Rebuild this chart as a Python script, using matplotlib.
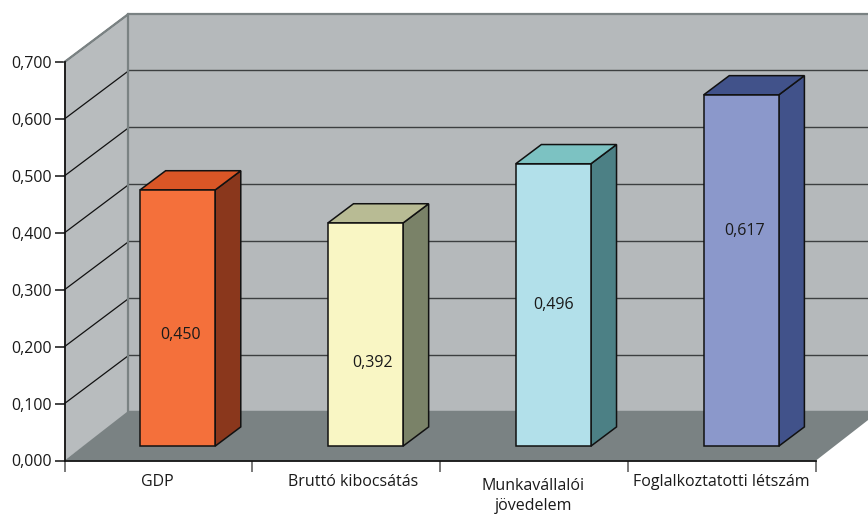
import matplotlib
matplotlib.use('Agg')
import matplotlib.pyplot as plt
import numpy as np

categories = ['GDP', 'Bruttó kibocsátás', 'Munkavállalói\njövedelem', 'Foglalkoztatotti létszám']
values = [0.450, 0.392, 0.496, 0.617]
value_labels = ['0,450', '0,392', '0,496', '0,617']
y_ticks = [0.0, 0.1, 0.2, 0.3, 0.4, 0.5, 0.6, 0.7]
y_labels = ['0,000', '0,100', '0,200', '0,300', '0,400', '0,500', '0,600', '0,700']

front_colors = ['#f4703b', '#f9f6c4', '#b2e0ea', '#8b98cb']
side_colors = ['#8a371c', '#7a8268', '#4c8085', '#41528a']
top_colors = ['#da5626', '#b8bb94', '#7cc2c2', '#41528a']

# height of the value text inside each bar
label_y = [0.221, 0.171, 0.274, 0.404]
label_shift = [0.015, 0.036, 0.0, 0.02]
# sideways shift of category labels in px
label_dx = [-1, 7, -1, -1]
label_top = [-14, -14, -17, -14]

plt.rcParams['font.family'] = 'Open Sans'
W, H = 868, 515
fig = plt.figure(figsize=(W/100, H/100), dpi=100)
x0, x1, ytop, ybot = 64.5, 816, 62, 460.5
ax = fig.add_axes([x0/W, 1-ybot/H, (x1-x0)/W, (ybot-ytop)/H])
ax.set_xlim(0, 4)
ax.set_ylim(0, 0.7)
ax.patch.set_visible(False)

# depth of the fake 3d box, in data units
dx = 64/188
dy = 48/569.3
floor_dy = dy+0.003

# walls and floor
ax.fill([dx, 4+dx+0.2, 4+dx+0.2, dx], [dy, dy, 0.7+dy, 0.7+dy], color='#b5b9bb', clip_on=False, zorder=1, lw=0)
ax.fill([0, dx, dx, 0], [0, dy, 0.7+dy, 0.7], color='#b8bcbe', clip_on=False, zorder=1, lw=0)

for t in y_ticks[1:]:
    ax.plot([0, dx], [t, t+dy], color='#111111', lw=0.9, clip_on=False, zorder=2)
    if t < 0.7:
        ax.plot([dx, 4+dx+0.2], [t+dy+0.001, t+dy+0.001], color='#3c3f40', lw=1.0, clip_on=False, zorder=2)

# wall edges
ax.plot([0, dx, 4+dx+0.2], [0.7, 0.7+dy, 0.7+dy], color='#7a8283', lw=1.6, clip_on=False, zorder=3)
ax.plot([dx, dx], [dy, 0.7+dy], color='#7a8283', lw=1.6, clip_on=False, zorder=3)
ax.fill([0, 4, 4+dx, dx], [0, 0, floor_dy, floor_dy], color='#7a8283', clip_on=False, zorder=3, lw=0)

# bars: front face from ax.bar, side and top built from the same value
bw = 0.4
d0, d1 = 0.3, 0.7
for i, v in enumerate(values):
    xc = i+0.5+d0*dx
    y0 = d0*dy
    xl, xr = xc-bw/2, xc+bw/2
    sx, sy = (d1-d0)*dx, (d1-d0)*dy
    ax.fill([xr, xr+sx, xr+sx, xr], [y0, y0+sy, y0+v+sy, y0+v], facecolor=side_colors[i],
            edgecolor='#111111', lw=1.1, zorder=4, clip_on=False)
    ax.fill([xl, xr, xr+sx, xl+sx], [y0+v, y0+v, y0+v+sy, y0+v+sy], facecolor=top_colors[i],
            edgecolor='#111111', lw=1.1, zorder=4, clip_on=False)
    ax.bar(xc, v, bw, bottom=y0, color=front_colors[i], edgecolor='#111111', lw=1.1, zorder=5, clip_on=False)
    ax.text(xc+label_shift[i], label_y[i], value_labels[i], ha='center', va='center', fontsize=11.5,
            color='#1a1a1a', zorder=6)

for s in ['top', 'right']:
    ax.spines[s].set_visible(False)
for s in ['left', 'bottom']:
    ax.spines[s].set_linewidth(1.3)
    ax.spines[s].set_color('#111111')
    ax.spines[s].set_zorder(7)

ax.set_yticks(y_ticks)
ax.set_yticklabels(y_labels, fontsize=11.5, color='#1a1a1a')
ax.set_xticks(np.arange(5))
ax.set_xticklabels([])
ax.tick_params(axis='y', length=7, width=1.1, pad=2, color='#111111')
ax.tick_params(axis='x', length=8, width=1.1, color='#555555')

for i, c in enumerate(categories):
    ax.annotate(c, xy=(i+0.5, 0), xycoords=ax.get_xaxis_transform(),
                xytext=(label_dx[i], label_top[i]), textcoords='offset pixels',
                ha='center', va='top', fontsize=11.5, color='#1a1a1a', linespacing=1.4)

fig.savefig('out.png', dpi=100)
